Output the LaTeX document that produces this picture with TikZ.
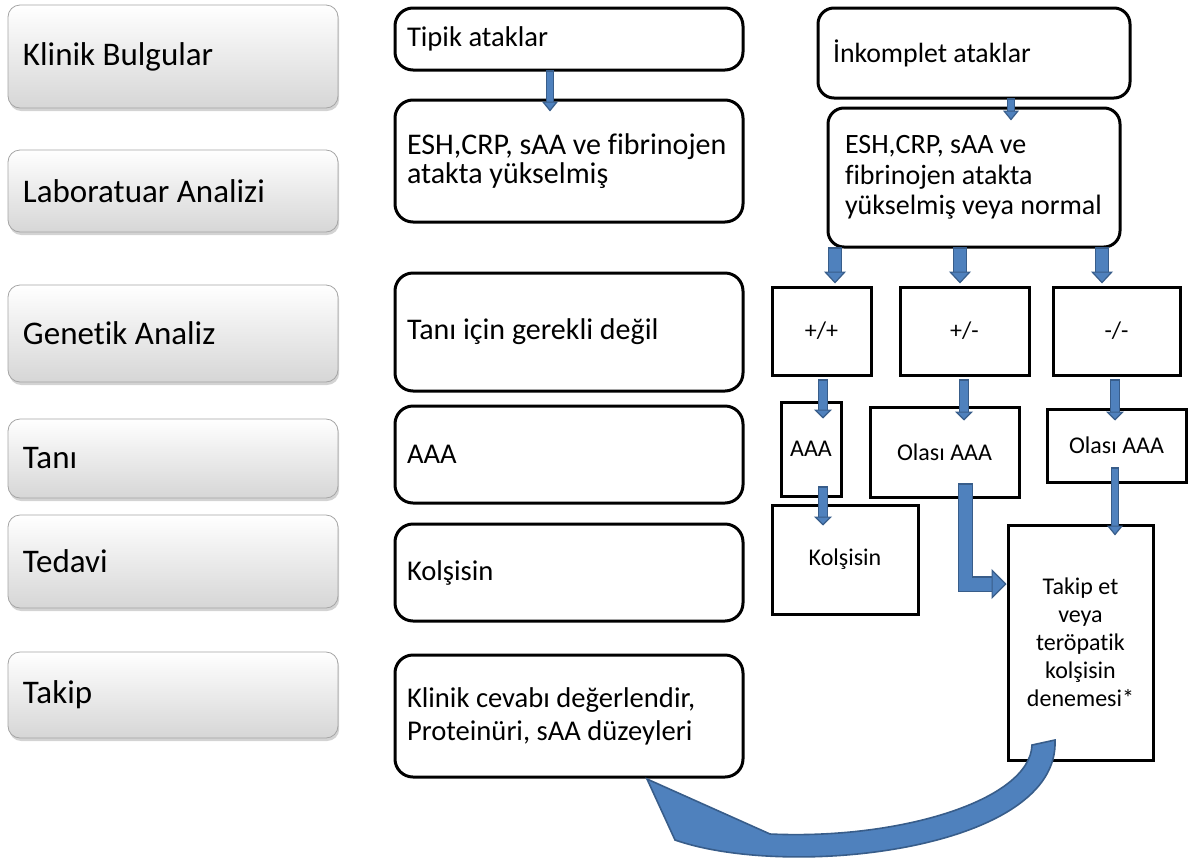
\documentclass[tikz,border=0pt]{standalone}
\usepackage{fontspec}
\setmainfont{Carlito}[Ligatures={NoCommon}]
\usetikzlibrary{arrows.meta,calc,shadows}

\definecolor{arrowfill}{RGB}{79,129,189}
\definecolor{arrowline}{RGB}{56,93,138}
\definecolor{stagebot}{RGB}{214,214,214}
\definecolor{stageline}{RGB}{165,165,165}

\tikzset{
  natspace/.style={execute at begin node={\spaceskip=0pt\xspaceskip=0pt}},
  stage/.style={rounded corners=6pt, draw=stageline, top color=white, bottom color=stagebot,
    drop shadow={shadow xshift=0.6pt, shadow yshift=-1.5pt, opacity=0.35},
    minimum width=165pt, text width=150pt, inner xsep=7.5pt, align=left, natspace,
    font=\fontsize{16.5}{19}\selectfont},
  midbox/.style={draw, line width=1.5pt, rounded corners=9pt, minimum width=174pt,
    text width=162pt, inner xsep=6pt, align=left, natspace, font=\fontsize{14.3}{17}\selectfont},
  rbox/.style={draw, line width=1.5pt, rounded corners=8pt, inner xsep=7.5pt, align=left,
    natspace, font=\fontsize{13.9}{16}\selectfont},
  sqbox/.style={draw, line width=1.5pt, inner sep=2pt, align=center,
    font=\fontsize{12}{14}\selectfont},
  blockarrow/.style n args={3}{line width=#1, draw=arrowfill,
    -{Triangle[width=#2, length=#3, fill=arrowfill, color=arrowline, line width=0.6pt]},
    preaction={draw=arrowline, line width=#1+1.2pt, -, shorten >=#3, shorten <=-0.6pt}},
  thinarrow/.style={blockarrow={3pt}{8pt}{5pt}},
  widearrow/.style={blockarrow={6pt}{11pt}{6pt}},
  medarrow/.style={blockarrow={4pt}{9pt}{4.5pt}},
  bentarrow/.style={blockarrow={6.5pt}{15pt}{7.5pt}},
}

\begin{document}
\begin{tikzpicture}[x=0.5pt, y=-0.5pt]
  \useasboundingbox (0,0) rectangle (1190,863);
  % Stages
  \node[stage, minimum height=51.5pt] (klinik) at (173,56.5) {Klinik Bulgular};
  \node[stage, minimum height=41pt] (lab) at (173,191) {Laboratuar Analizi};
  \node[stage, minimum height=48.5pt] (genetik) at (173,333.5) {Genetik Analiz};
  \node[stage, minimum height=39.5pt] (tani) at (173,458.5) {Tanı};
  \node[stage, minimum height=46.5pt] (tedavi) at (173,561.5) {Tedavi};
  \node[stage, minimum height=43pt] (takip) at (173,695) {Takip};
  % Typical attacks
  \node[midbox, minimum height=31pt] (tipik) at (569,39) {Tipik ataklar};
  \node[midbox, minimum height=61pt, font=\fontsize{15}{14.5}\selectfont] (esh) at (569,161)
    {ESH,CRP, sAA ve fibrinojen\\atakta yükselmiş};
  \node[midbox, minimum height=59pt, font=\fontsize{15}{17}\selectfont] (gerekli) at (569,332)
    {Tanı için gerekli değil};
  \node[midbox, minimum height=48.5pt] (aaa) at (569,454.5) {AAA};
  \node[midbox, minimum height=48.5pt] (kolsisin) at (569,572.5) {Kolşisin};
  \node[midbox, minimum height=61pt, font=\fontsize{14.3}{16.5}\selectfont] (cevap) at (569,716)
    {Klinik cevabı değerlendir,\\Proteinüri, sAA düzeyleri};
  % Incomplete attacks
  \node[rbox, minimum width=156pt, text width=141pt, minimum height=45pt] (inkomplet) at (974,53)
    {İnkomplet ataklar};
  \node[rbox, minimum width=146pt, text width=129pt, inner xsep=8.5pt, minimum height=69.5pt,
    font=\fontsize{14}{15.3}\selectfont] (esh2) at (974,177.5)
    {ESH,CRP, sAA ve\\fibrinojen atakta\\yükselmiş veya normal};
  \node[sqbox, minimum width=49.5pt, minimum height=44pt] (pp) at (821.5,331) {+/+};
  \node[sqbox, minimum width=64.5pt, minimum height=44pt] (pm) at (964.5,331) {+/-};
  \node[sqbox, minimum width=63.5pt, minimum height=44pt] (mm) at (1116.5,331) {-/-};
  \node[sqbox, minimum width=30pt, minimum height=47pt] (aaa2) at (811,449) {AAA};
  \node[sqbox, minimum width=74.5pt, minimum height=45pt] (olasi1) at (944.5,452) {Olası AAA};
  \node[sqbox, minimum width=69.5pt, minimum height=36.5pt] (olasi2) at (1116.5,445.5) {Olası AAA};
  \node[sqbox, minimum width=73pt, minimum height=54.5pt] (kolsisin2) at (845,559.5) {Kolşisin};
  \node[sqbox, minimum width=72.5pt, minimum height=117.5pt] (takipet) at (1080.5,642.5)
    {Takip et\\veya\\teröpatik\\kolşisin\\denemesi*};
  % Arrows
  \draw[thinarrow] (tipik.south -| 550,0) -- ($(esh.north -| 550,0)+(0,13)$);
  \draw[thinarrow] (inkomplet.south -| 1011,0) -- ($(esh2.north -| 1011,0)+(0,14)$);
  \draw[widearrow] (esh2.south -| 835,0) -- ($(pp.north -| 835,0)+(0,-2)$);
  \draw[widearrow] (esh2.south -| 960,0) -- ($(pm.north -| 960,0)+(0,-2)$);
  \draw[widearrow] (esh2.south -| 1102,0) -- ($(mm.north -| 1102,0)+(0,-2)$);
  \draw[medarrow] ($(pp.south -| 823,0)+(0,4)$) -- ($(aaa2.north -| 823,0)+(0,18)$);
  \draw[medarrow] ($(pm.south -| 964,0)+(0,4)$) -- ($(olasi1.north -| 964,0)+(0,15)$);
  \draw[medarrow] ($(mm.south -| 1115,0)+(0,4)$) -- ($(olasi2.north -| 1115,0)+(0,13)$);
  \draw[medarrow] ($(aaa2.south -| 823,0)+(0,-10)$) -- ($(kolsisin2.north -| 823,0)+(0,22)$);
  \draw[thinarrow] ($(olasi2.south -| 1115,0)+(0,-15)$) -- ($(takipet.north -| 1115,0)+(0,12)$);
  \draw[bentarrow] ($(olasi1.south -| 965.5,0)+(0,-14)$) |- ($(takipet.west)+(0,-58.5)$);
  % Back to follow-up
  \filldraw[fill=arrowfill, draw=arrowline, line width=0.8pt]
    (1032,745) .. controls (1030,800) and (900,840) .. (770,834) -- (647,779) -- (675,840)
    .. controls (790,880) and (1060,850) .. (1055,740) -- cycle;
\end{tikzpicture}
\end{document}
